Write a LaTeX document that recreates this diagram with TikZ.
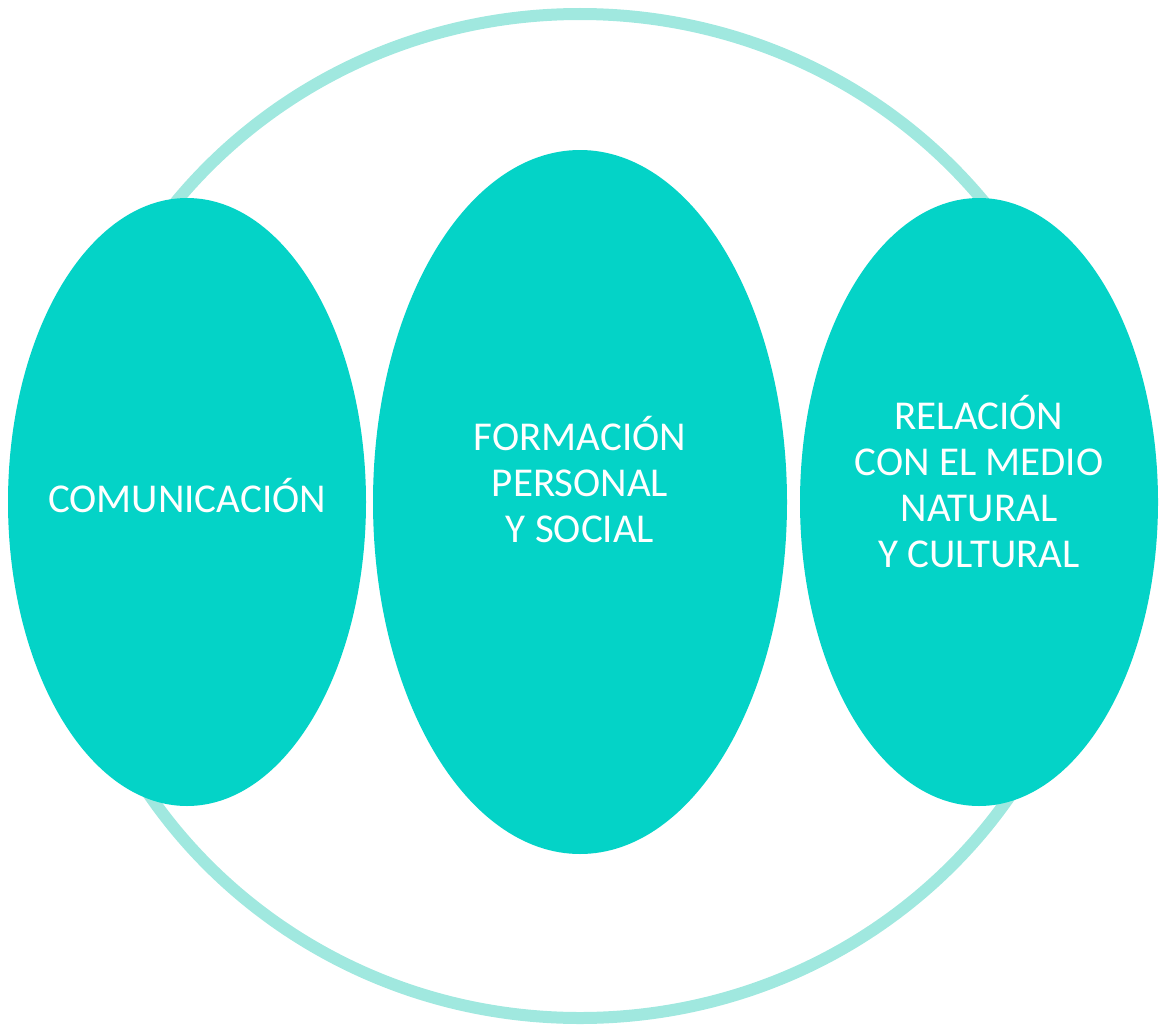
\documentclass[tikz,border=0pt]{standalone}
\usepackage{fontspec}
\setmainfont{Carlito}
\usetikzlibrary{shapes.geometric,positioning}

\definecolor{ringteal}{HTML}{A0E8DF}
\definecolor{areateal}{HTML}{04D3C7}

\tikzset{
  area/.style={ellipse, fill=areateal, draw=none, inner sep=0pt},
  areatext/.style={text=white, align=center, font=\fontsize{41}{46}\selectfont}
}

\begin{document}
\begin{tikzpicture}[x=1pt, y=-1pt]

\useasboundingbox (0,0) rectangle (1159,1025); %% frame

%% outer ring
\draw[ringteal, line width=12pt] (580,516) ellipse [x radius=518, y radius=502];

%% three areas
\node[area, minimum width=358pt, minimum height=608pt] (comm) at (187,502) {};
\node[area, minimum width=414pt, minimum height=704pt] (form) at (580,502) {};
\node[area, minimum width=358pt, minimum height=608pt] (rel) at (979,502) {};

\node[areatext] (commtxt) at ([yshift=6pt]comm.center) {COMUNICACIÓN};
\node[areatext] (formtxt) at ([yshift=22pt]form.center) {FORMACIÓN\\PERSONAL\\Y SOCIAL};
\node[areatext] (reltxt) at ([yshift=20pt]rel.center) {RELACIÓN\\CON EL MEDIO\\NATURAL\\Y CULTURAL};

\end{tikzpicture}
\end{document}
